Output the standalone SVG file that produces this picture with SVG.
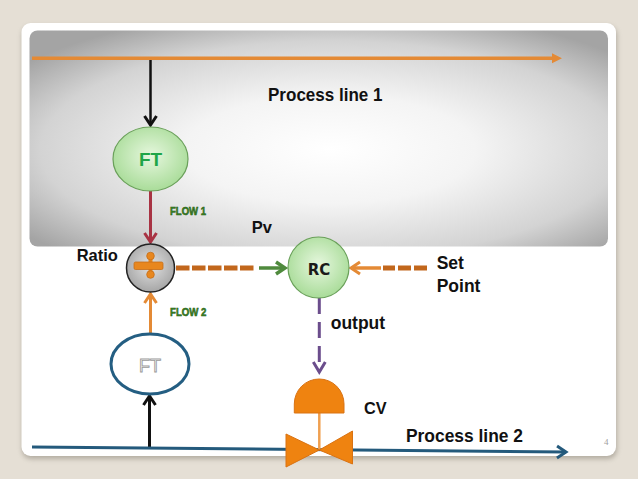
<svg xmlns="http://www.w3.org/2000/svg" width="638" height="479" viewBox="0 0 638 479">
<style>
.lbl{font-family:"Liberation Sans",Arial,sans-serif;font-weight:bold;fill:#111;}
.flow{font-family:"Liberation Sans",Arial,sans-serif;font-weight:bold;font-size:11px;fill:#3d8a25;stroke:#1e5410;stroke-width:0.5;}
.ln{fill:none;stroke-linecap:butt;}
</style>
<defs>
<radialGradient id="panelG" cx="0.52" cy="0.55" r="0.66">
<stop offset="0" stop-color="#ffffff"/>
<stop offset="0.38" stop-color="#f4f4f4"/>
<stop offset="0.76" stop-color="#d3d3d3"/>
<stop offset="1" stop-color="#a4a4a4"/>
</radialGradient>
<radialGradient id="greenG" cx="0.5" cy="0.45" r="0.55">
<stop offset="0" stop-color="#e6f7de"/>
<stop offset="1" stop-color="#a9dc99"/>
</radialGradient>
<radialGradient id="grayG" cx="0.5" cy="0.45" r="0.55">
<stop offset="0" stop-color="#e2e2e2"/>
<stop offset="1" stop-color="#a6a6a6"/>
</radialGradient>
<filter id="shadow" x="-5%" y="-5%" width="110%" height="115%">
<feGaussianBlur stdDeviation="2.5"/>
</filter>
<marker id="aOrF" markerUnits="userSpaceOnUse" viewBox="-2 -8 14 16" markerWidth="14" markerHeight="16" refX="0" refY="0" orient="auto" overflow="visible">
<path d="M-1,-5 L9,0 L-1,5 Z" fill="#e48a35"/>
</marker>
<marker id="aOr" markerUnits="userSpaceOnUse" viewBox="-12 -8 14 16" markerWidth="14" markerHeight="16" refX="0" refY="0" orient="auto" overflow="visible">
<path d="M-9,-6 L0,0 L-9,6" fill="none" stroke="#e48a35" stroke-width="3"/>
</marker>
<marker id="aBk" markerUnits="userSpaceOnUse" viewBox="-12 -8 14 16" markerWidth="14" markerHeight="16" refX="0" refY="0" orient="auto" overflow="visible">
<path d="M-9,-6 L0,0 L-9,6" fill="none" stroke="#111" stroke-width="3"/>
</marker>
<marker id="aRd" markerUnits="userSpaceOnUse" viewBox="-12 -8 14 16" markerWidth="14" markerHeight="16" refX="0" refY="0" orient="auto" overflow="visible">
<path d="M-9,-6 L0,0 L-9,6" fill="none" stroke="#a83343" stroke-width="3"/>
</marker>
<marker id="aGr" markerUnits="userSpaceOnUse" viewBox="-12 -8 14 16" markerWidth="14" markerHeight="16" refX="0" refY="0" orient="auto" overflow="visible">
<path d="M-9,-6 L0,0 L-9,6" fill="none" stroke="#4f8a3d" stroke-width="3.5"/>
</marker>
<marker id="aPu" markerUnits="userSpaceOnUse" viewBox="-12 -8 14 16" markerWidth="14" markerHeight="16" refX="0" refY="0" orient="auto" overflow="visible">
<path d="M-10,-6 L0,0 L-10,6" fill="none" stroke="#6b4d8c" stroke-width="3"/>
</marker>
<marker id="aBl" markerUnits="userSpaceOnUse" viewBox="-12 -8 14 16" markerWidth="14" markerHeight="16" refX="0" refY="0" orient="auto" overflow="visible">
<path d="M-9,-6 L0,0 L-9,6" fill="none" stroke="#245a7c" stroke-width="3"/>
</marker>
</defs>

<rect x="0" y="0" width="638" height="479" fill="#e5dfd5"/>
<g id="card">
<rect x="22" y="26" width="595" height="433" rx="9" fill="#8a8478" opacity="0.55" filter="url(#shadow)"/>
<rect x="21.5" y="23" width="594.5" height="433" rx="9" fill="#ffffff"/>
<rect x="29.5" y="30.5" width="578.5" height="216" rx="8" fill="url(#panelG)"/>
</g>

<g id="connectors">
<line x1="32" y1="58.3" x2="553" y2="58.3" class="ln" stroke="#e48a35" stroke-width="3.5" marker-end="url(#aOrF)"/>
<line x1="150.5" y1="60" x2="150.5" y2="125" class="ln" stroke="#111" stroke-width="2.5" marker-end="url(#aBk)"/>
<line x1="150.5" y1="191" x2="150.5" y2="242" class="ln" stroke="#a83343" stroke-width="3" marker-end="url(#aRd)"/>
<line x1="176" y1="268" x2="255" y2="268" class="ln" stroke="#c2671c" stroke-width="5" stroke-dasharray="13.5 2.5"/>
<line x1="259" y1="268" x2="285" y2="268" class="ln" stroke="#4f8a3d" stroke-width="3.5" marker-end="url(#aGr)"/>
<line x1="427" y1="268" x2="383" y2="268" class="ln" stroke="#c2671c" stroke-width="5" stroke-dasharray="13 3"/>
<line x1="381" y1="268" x2="351" y2="268" class="ln" stroke="#e48a35" stroke-width="3.5" marker-end="url(#aOr)"/>
<line x1="319.3" y1="298" x2="319.3" y2="372" class="ln" stroke="#6b4d8c" stroke-width="3" stroke-dasharray="16 8" marker-end="url(#aPu)"/>
<line x1="150.5" y1="334" x2="150.5" y2="294" class="ln" stroke="#e48a35" stroke-width="3" marker-end="url(#aOr)"/>
<line x1="149.5" y1="447" x2="149.5" y2="396" class="ln" stroke="#111" stroke-width="3" marker-end="url(#aBk)"/>
<line x1="32" y1="447" x2="566" y2="452" class="ln" stroke="#245a7c" stroke-width="3" marker-end="url(#aBl)"/>
</g>

<g id="ft1">
<ellipse cx="150.5" cy="159" rx="37.5" ry="32" fill="url(#greenG)" stroke="#6aa05a" stroke-width="1.2"/>
<text x="150.5" y="166" text-anchor="middle" class="lbl" style="font-size:19px;fill:#1fa548">FT</text>
</g>
<g id="ratio">
<circle cx="150.5" cy="268" r="24" fill="url(#grayG)" stroke="#222" stroke-width="1.5"/>
<rect x="148.5" y="255" width="4" height="20" fill="#e8871e"/>
<circle cx="150.5" cy="256" r="3.8" fill="#e8871e" stroke="#c56d18" stroke-width="0.8"/>
<circle cx="150.5" cy="274.5" r="3.8" fill="#e8871e" stroke="#c56d18" stroke-width="0.8"/>
<rect x="134" y="262" width="29" height="7.5" rx="1.5" fill="#e8871e" stroke="#c56d18" stroke-width="0.8"/>
</g>
<g id="rc">
<circle cx="318.5" cy="267.5" r="30.5" fill="url(#greenG)" stroke="#6aa05a" stroke-width="1.2"/>
<text x="319" y="275" text-anchor="middle" style="font-family:'DejaVu Sans',sans-serif;font-weight:bold;font-size:15px;fill:#1a1a1a">RC</text>
</g>
<g id="ft2">
<ellipse cx="150" cy="364" rx="39" ry="30" fill="#ffffff" stroke="#245e82" stroke-width="3"/>
<text x="150" y="371.5" text-anchor="middle" style="font-family:'Liberation Sans',Arial,sans-serif;font-size:18px;fill:#ffffff;stroke:#9a9a9a;stroke-width:0.9">FT</text>
</g>
<g id="cv">
<line x1="319.3" y1="413" x2="319.3" y2="450" stroke="#f0a050" stroke-width="2.5"/>
<path d="M294.3,413 L344,413 L344,404 A24.85,25 0 0 0 294.3,404 Z" fill="#ef8310" stroke="#d97212" stroke-width="1"/>
<path d="M286,434 L286,467 L319.3,450 Z M352.5,431 L352.5,464 L319.3,450 Z" fill="#ef8310" stroke="#d97212" stroke-width="1" stroke-linejoin="round"/>
</g>

<g id="labels">
<text x="268" y="100.7" class="lbl" style="font-size:18.5px" textLength="114.5" lengthAdjust="spacingAndGlyphs">Process line 1</text>
<text x="170" y="215" class="flow" textLength="36" lengthAdjust="spacingAndGlyphs">FLOW 1</text>
<text x="251.7" y="233.3" class="lbl" style="font-size:16.5px">Pv</text>
<text x="76.7" y="260.7" class="lbl" style="font-size:16.5px">Ratio</text>
<text x="436.7" y="269" class="lbl" style="font-size:17.5px">Set</text>
<text x="436.7" y="292" class="lbl" style="font-size:17.5px">Point</text>
<text x="170" y="316" class="flow" textLength="36.5" lengthAdjust="spacingAndGlyphs">FLOW 2</text>
<text x="330.7" y="328.5" class="lbl" style="font-size:17.5px">output</text>
<text x="364" y="414" class="lbl" style="font-size:16.3px">CV</text>
<text x="406" y="441.5" class="lbl" style="font-size:18px" textLength="117" lengthAdjust="spacingAndGlyphs">Process line 2</text>
<text x="604" y="445" style="font-family:'Liberation Serif',serif;font-size:9px;fill:#a0a0a0">4</text>
</g>
</svg>
